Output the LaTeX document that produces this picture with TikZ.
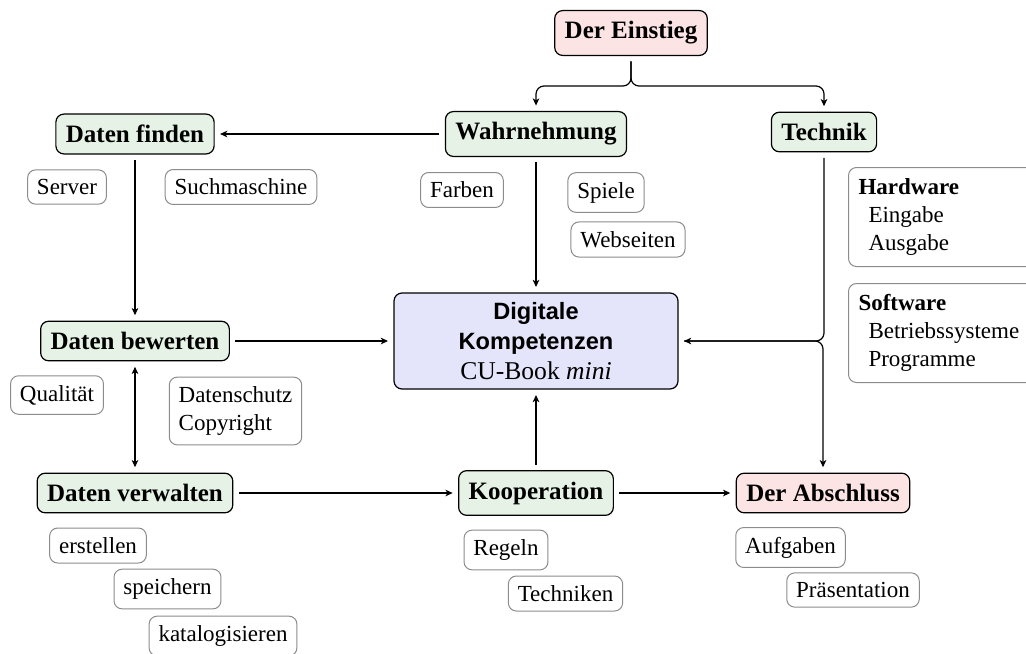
\documentclass[tikz,border=0pt]{standalone}
\usepackage{fontspec}
\setmainfont{Liberation Serif}
\setsansfont{Liberation Sans}
\usetikzlibrary{arrows.meta}
\definecolor{pinkfill}{RGB}{252,228,228}
\definecolor{greenfill}{RGB}{229,242,229}
\definecolor{bluefill}{RGB}{228,228,250}
\definecolor{subborder}{RGB}{140,140,140}
\newcommand\mainfnt{\fontsize{12.5}{15}\selectfont\bfseries}
\newcommand\subfnt{\fontsize{11.5}{14}\selectfont}
\begin{document}
\begin{tikzpicture}[x=0.5pt,y=-0.5pt,
  >={Stealth[length=3.6pt,width=3.3pt,inset=1pt]},
  mainbox/.style={draw=black, line width=0.6pt, rounded corners=4pt, font=\mainfnt, inner xsep=5pt, inner ysep=5.5pt, outer sep=3pt},
  startend/.style={mainbox, fill=pinkfill},
  topic/.style={mainbox, fill=greenfill},
  centerbox/.style={mainbox, fill=bluefill, align=center, minimum width=142pt, minimum height=48pt, inner ysep=4pt, font=\fontsize{12.5}{15}\selectfont},
  sub/.style={draw=subborder, line width=0.5pt, rounded corners=4pt, font=\subfnt, inner sep=4.7pt},
  techbox/.style={sub, anchor=north west, text width=88.5pt, minimum height=49.5pt, inner xsep=5pt, align=left},
  conn/.style={->, line width=0.6pt},
  dconn/.style={<->, line width=0.6pt}]
\clip (0,0) rectangle (1026,653);
% main nodes
\node[startend] (einstieg) at (631,33) {Der Einstieg};
\node[topic] (wahr) at (536,134) {Wahrnehmung};
\node[topic] (technik) at (824,132) {Technik};
\node[topic] (finden) at (135,134) {Daten finden};
\node[topic] (bewerten) at (135,341) {Daten bewerten};
\node[topic] (verwalten) at (135,493) {Daten verwalten};
\node[topic] (koop) at (536,493) {Kooperation};
\node[startend] (abschluss) at (823,493) {Der Abschluss};
\node[centerbox] (central) at (536,341) {{\sffamily\bfseries\fontsize{11.8}{15}\selectfont Digitale}\\{\sffamily\bfseries\fontsize{11.8}{15}\selectfont Kompetenzen}\\{\fontsize{12.8}{15}\selectfont CU-Book \textit{mini}}};
% sub nodes
\node[sub] (server) at (67,187) {Server};
\node[sub] (such) at (241,187) {Suchmaschine};
\node[sub] (farben) at (462,190) {Farben};
\node[sub] (spiele) at (606,192.5) {Spiele};
\node[sub] (webseiten) at (628,239.5) {Webseiten};
\node[sub] (qual) at (57,395) {Qualität};
\node[sub, align=left] (schutz) at (235.5,411) {Datenschutz\\Copyright};
\node[sub] (erstellen) at (98,545.5) {erstellen};
\node[sub] (speichern) at (167.5,589) {speichern};
\node[sub] (katalog) at (223,636) {katalogisieren};
\node[sub] (regeln) at (506,550) {Regeln};
\node[sub] (techniken) at (565.5,593.5) {Techniken};
\node[sub] (aufgaben) at (790.5,547.5) {Aufgaben};
\node[sub] (praes) at (853,590) {Präsentation};
\node[techbox] (hardware) at (848,167) {\textbf{Hardware}\\\hspace*{5pt}Eingabe\\\hspace*{5pt}Ausgabe};
\node[techbox] (software) at (848,283) {\textbf{Software}\\\hspace*{5pt}Betriebssysteme\\\hspace*{5pt}Programme};
% connectors
\coordinate (split) at (631,86);
\draw[conn, rounded corners=4pt] (einstieg.south) -- (split) -| (wahr.north);
\draw[conn, rounded corners=4pt] (einstieg.south) -- (split) -| (technik.north);
\draw[conn] (wahr.west) -- (finden.east);
\draw[conn] (wahr.south) -- (central.north);
\draw[conn] (finden.south) -- (bewerten.north);
\draw[conn] (bewerten.east) -- (central.west);
\draw[dconn] (bewerten.south) -- (verwalten.north);
\draw[conn] (verwalten.east) -- (koop.west);
\draw[conn] (koop.north) -- (central.south);
\draw[conn] (koop.east) -- (abschluss.west);
\draw[conn, rounded corners=4pt] (technik.south) |- (central.east);
\draw[conn, rounded corners=4pt] (central.east) -| (abschluss.north);
\end{tikzpicture}
\end{document}
